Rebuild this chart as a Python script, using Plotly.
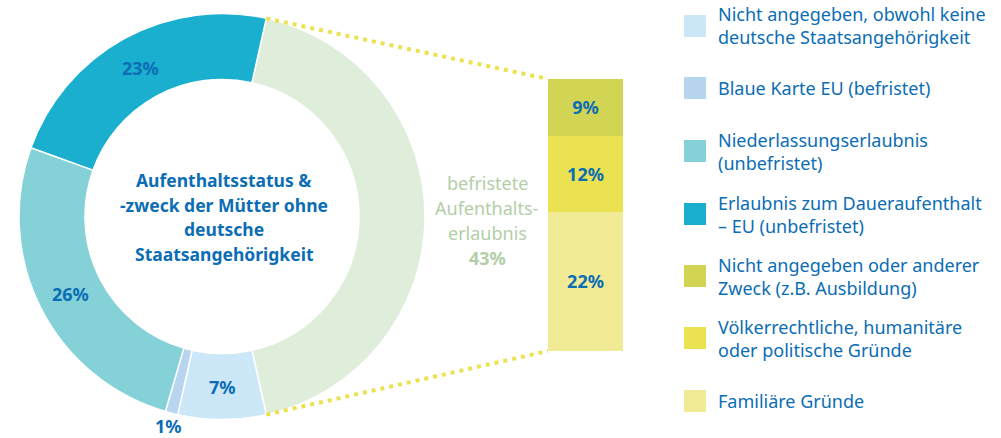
import math
import plotly.graph_objects as go

W, H = 1001, 438          # page viewport (body margin removed below)
FONT = "Noto Sans"
BLUE = "#0b6db4"
GREEN_TXT = "#b3cea6"

# ---- data ----
pie_labels = ["befristete Aufenthaltserlaubnis",
              "Nicht angegeben, obwohl keine deutsche Staatsangehörigkeit",
              "Blaue Karte EU (befristet)",
              "Niederlassungserlaubnis (unbefristet)",
              "Erlaubnis zum Daueraufenthalt – EU (unbefristet)"]
pie_values = [43, 7, 1, 26, 23]
pie_colors = ["#deeedb", "#cce8f8", "#b8d5ef", "#85d1d8", "#1aaecf"]

bar_labels = ["Familiäre Gründe",
              "Völkerrechtliche, humanitäre oder politische Gründe",
              "Nicht angegeben oder anderer Zweck (z.B. Ausbildung)"]
bar_values = [22, 12, 9]
bar_colors = ["#f2eb96", "#ebe251", "#d2d453"]

legend_lines = [
    ["Nicht angegeben, obwohl keine", "deutsche Staatsangehörigkeit"],
    ["Blaue Karte EU (befristet)"],
    ["Niederlassungserlaubnis", "(unbefristet)"],
    ["Erlaubnis zum Daueraufenthalt", "– EU (unbefristet)"],
    ["Nicht angegeben oder anderer", "Zweck (z.B. Ausbildung)"],
    ["Völkerrechtliche, humanitäre", "oder politische Gründe"],
    ["Familiäre Gründe"],
]
legend_colors = ["#cce8f8", "#b8d5ef", "#85d1d8", "#1aaecf", "#d2d453", "#ebe251", "#f2eb96"]

center_title = ["Aufenthaltsstatus &", "-zweck der Mütter ohne", "deutsche", "Staatsangehörigkeit"]
big_label = ["befristete", "Aufenthalts-", "erlaubnis"]

# ---- layout geometry (page pixels) ----
CX, CY, R = 222, 216.5, 203
HOLE = 0.675
ROT = 12.6
BAR_X0, BAR_X1, BAR_TOP, BAR_BOT = 548, 623, 79, 351


def px(x):
    return x / W


def py(y):
    return 1 - y / H


fig = go.Figure()
fig.add_trace(go.Pie(
    labels=pie_labels, values=pie_values, sort=False, direction="clockwise",
    rotation=ROT, hole=HOLE, textinfo="none", hoverinfo="label+percent",
    marker=dict(colors=pie_colors, line=dict(color="white", width=1.5)),
    domain=dict(x=[px(CX - R), px(CX + R)], y=[py(CY + R), py(CY - R)]),
    showlegend=False,
))

for lab, v, c in zip(bar_labels, bar_values, bar_colors):
    fig.add_trace(go.Bar(
        x=[0], y=[v], name=lab, marker=dict(color=c, line=dict(width=0)),
        width=1, text=[f"<b>{v}%</b>"], textposition="inside",
        insidetextanchor="middle", textangle=0,
        textfont=dict(family=FONT, size=18, color=BLUE),
        showlegend=False, hoverinfo="name+y",
    ))

fig.update_layout(
    width=W, height=H, margin=dict(l=0, r=0, t=0, b=0),
    paper_bgcolor="white", plot_bgcolor="rgba(0,0,0,0)",
    barmode="stack",
    xaxis=dict(domain=[px(BAR_X0), px(BAR_X1)], range=[-0.5, 0.5], visible=False, fixedrange=True),
    yaxis=dict(domain=[py(BAR_BOT), py(BAR_TOP)], range=[0, sum(bar_values)], visible=False, fixedrange=True),
)

ann = []
shapes = []

# percent labels on donut
total = sum(pie_values)
ang = ROT
mid_r = R * (1 + HOLE) / 2
for i, v in enumerate(pie_values):
    a0, a1 = ang, ang + v / total * 360
    ang = a1
    if i == 0:
        continue
    mid = math.radians((a0 + a1) / 2)
    rr = mid_r if v >= 3 else R + 13
    x = CX + rr * math.sin(mid)
    y = CY - rr * math.cos(mid)
    ann.append(dict(x=px(x), y=py(y), xref="paper", yref="paper", showarrow=False,
                    text=f"<b>{v}%</b>", font=dict(family=FONT, size=18, color=BLUE),
                    xanchor="center", yanchor="middle"))

# center title
for k, line in enumerate(center_title):
    ann.append(dict(x=px(CX + 2), y=py(180 + k * 24.6), xref="paper", yref="paper", showarrow=False,
                    text=f"<b>{line}</b>", font=dict(family=FONT, size=17.5, color=BLUE),
                    xanchor="center", yanchor="middle"))

# big slice label
for k, line in enumerate(big_label + [f"<b>{pie_values[0]}%</b>"]):
    ann.append(dict(x=px(487), y=py(183 + k * 25), xref="paper", yref="paper", showarrow=False,
                    text=line, font=dict(family=FONT, size=18, color=GREEN_TXT),
                    xanchor="center", yanchor="middle"))

# dotted connectors
a_start = math.radians(ROT)
a_end = math.radians(ROT + pie_values[0] / total * 360)
p_top = (CX + R * math.sin(a_start), CY - R * math.cos(a_start))
p_bot = (CX + R * math.sin(a_end), CY - R * math.cos(a_end))
for (x0, y0), (x1, y1) in [(p_top, (BAR_X0, BAR_TOP)), (p_bot, (BAR_X0, BAR_BOT))]:
    shapes.append(dict(type="line", xref="paper", yref="paper",
                       x0=px(x0), y0=py(y0), x1=px(x1), y1=py(y1),
                       line=dict(color="#ebe251", width=4, dash="4px,5px")))

# legend
centers = [26, 88, 151, 214, 276, 338, 401]
for lines, col, cy in zip(legend_lines, legend_colors, centers):
    shapes.append(dict(type="rect", xref="paper", yref="paper",
                       x0=px(684), x1=px(706), y0=py(cy - 11), y1=py(cy + 11),
                       fillcolor=col, line=dict(width=0)))
    ann.append(dict(x=px(716), y=py(cy), xref="paper", yref="paper", showarrow=False,
                    text="<br>".join(lines), align="left",
                    font=dict(family=FONT, size=18, color=BLUE),
                    xanchor="left", yanchor="middle"))

fig.update_layout(annotations=ann, shapes=shapes)
fig.write_html("out.html", config={"displayModeBar": False},
               post_script="document.body.style.margin='0px';document.body.style.overflow='hidden';")
